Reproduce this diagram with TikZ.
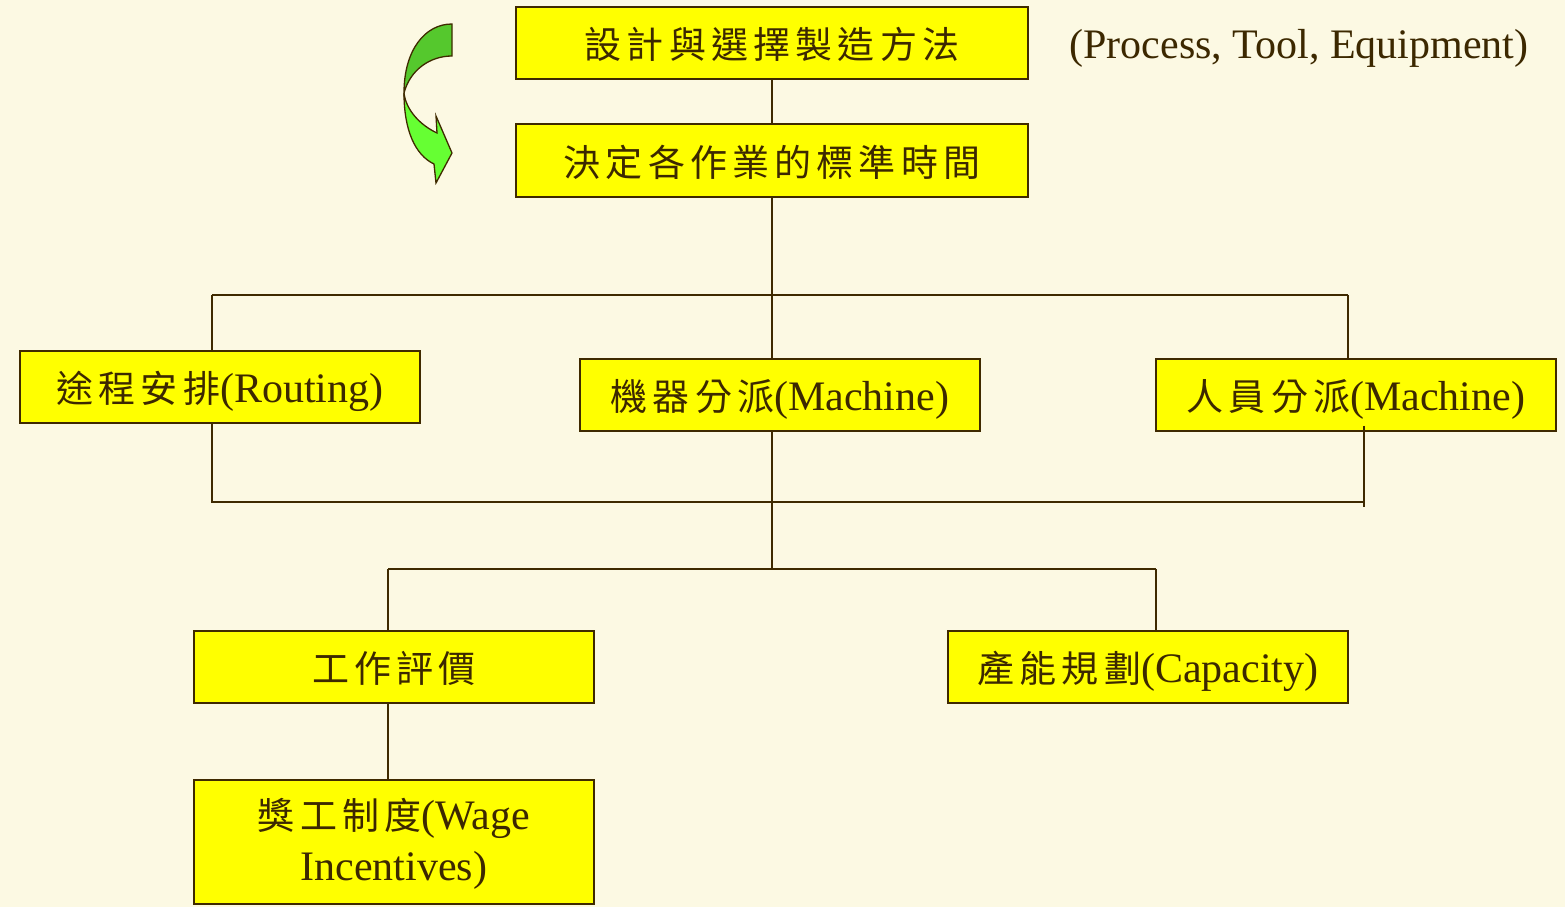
\documentclass[tikz,border=0pt]{standalone}
\usepackage{fontspec}
\setmainfont{Liberation Serif}
\newfontfamily\cjkfont[LetterSpace=14]{Noto Sans CJK TC}
\newcommand{\zhtext}[1]{{\cjkfont\fontsize{37}{50}\selectfont #1}}
\definecolor{bgcream}{HTML}{FCF9E3}
\definecolor{boxyellow}{HTML}{FFFF00}
\definecolor{edgebrown}{HTML}{3F2A00}
\definecolor{txtbrown}{HTML}{3C2800}
\definecolor{greendark}{HTML}{55C82D}
\definecolor{greenlight}{HTML}{66FF33}
\begin{document}
\begin{tikzpicture}[x=1pt,y=-1pt,
  box/.style={draw=edgebrown,fill=boxyellow,line width=1.5pt,minimum width=400pt,minimum height=72pt,inner sep=0pt,text=txtbrown,font=\fontsize{42}{50}\selectfont,align=center},
  onebox/.style={box,text height=39pt,text depth=8pt},
  conn/.style={draw=edgebrown,line width=1.5pt},
  arrowpart/.style={draw=edgebrown,line width=1.3pt,line join=miter}]
\fill[bgcream] (0,0) rectangle (1565,907);
\useasboundingbox (0,0) rectangle (1565,907);

% nodes
\node[onebox,minimum width=512pt] (top) at (772,43) {\zhtext{設計與選擇製造方法}};
\node[onebox,minimum width=512pt,minimum height=73pt] (std) at (772,160.5) {\zhtext{決定各作業的標準時間}};
\node[onebox] (route) at (220,387) {\zhtext{途程安排}(Routing)};
\node[onebox] (mach) at (780,395) {\zhtext{機器分派}(Machine)};
\node[onebox] (people) at (1356,395) {\zhtext{人員分派}(Machine)};
\node[onebox] (eval) at (394,667) {\zhtext{工作評價}};
\node[onebox] (cap) at (1148,667) {\zhtext{產能規劃}(Capacity)};
\node[box,minimum height=124pt] (wage) at (394,842) {\rule{0pt}{34pt}\zhtext{獎工制度}(Wage\\[1pt]Incentives)};
\node[text=txtbrown,font=\fontsize{42}{50}\selectfont,inner sep=0pt] (pte) at (1299,48.5) {(Process, Tool, Equipment)};

% green curved arrow
\filldraw[arrowpart,fill=greendark] (452,24) .. controls (425,24) and (404,50) .. (404,93)
  .. controls (410,70) and (430,56) .. (452,56) -- cycle;
\filldraw[arrowpart,fill=greenlight] (404,93) .. controls (404,130) and (415,155) .. (434,164)
  -- (436,183) -- (452,153) -- (436,116) -- (437,133)
  .. controls (420,125) and (406,110) .. (404,93) -- cycle;

% connectors
\coordinate (hL) at (212,295);
\coordinate (hR) at (1348,295);
\coordinate (bL) at (212,502);
\coordinate (bR) at (1364,502);
\coordinate (bRend) at (1364,507);
\coordinate (mid) at (772,569);
\coordinate (cL) at (388,569);
\coordinate (cR) at (1156,569);

\draw[conn] (top.south) -- (std.north);
\draw[conn] (std.south) -- (std.south |- mach.north);
\draw[conn] (hL) -- (hR);
\draw[conn] (hL) -- (hL |- route.north);
\draw[conn] (hR) -- (hR |- people.north);
\draw[conn] (bL |- route.south) -- (bL) -- (bR);
\draw[conn] ([yshift=6pt]bR |- people.south) -- (bRend);
\draw[conn] (std.south |- mach.south) -- (mid);
\draw[conn] (cL) -- (cR);
\draw[conn] (cL) -- (cL |- eval.north);
\draw[conn] (cR) -- (cR |- cap.north);
\draw[conn] (cL |- eval.south) -- (cL |- wage.north);
\end{tikzpicture}
\end{document}
